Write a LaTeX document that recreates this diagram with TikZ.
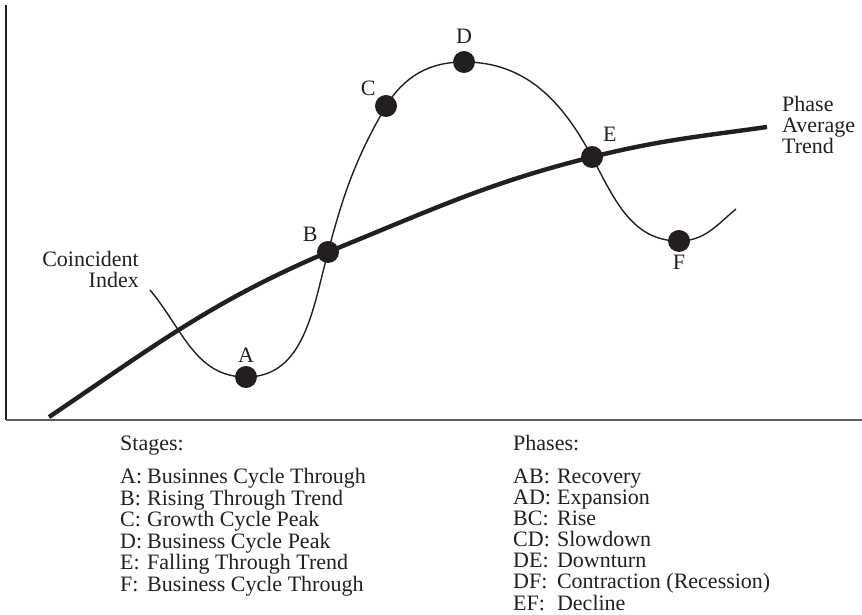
\documentclass[tikz,border=0pt]{standalone}
\usepackage{fontspec}
\setmainfont{Liberation Serif}
\usetikzlibrary{positioning}
\definecolor{color_ink}{RGB}{35,31,32}
\definecolor{color_axis}{RGB}{95,95,95}

\begin{document}
\begin{tikzpicture}[x=1pt,y=1pt,
  trend line/.style={line width=4.4pt,color_ink},
  cycle line/.style={line width=1.4pt,color_ink},
  stage dot/.style={circle,fill=color_ink,minimum size=22pt,inner sep=0pt},
  stage label/.style={font=\fontsize{22}{21}\selectfont,text=color_ink,inner sep=1pt,label distance=2pt},
  side text/.style={font=\fontsize{22}{21}\selectfont,text=color_ink,inner sep=0pt},
  legend text/.style={font=\fontsize{22}{20.5}\selectfont,text=color_ink,inner sep=0pt,anchor=base west}]

  \useasboundingbox (0,0) rectangle (862,615);

  % EJES
  \coordinate (ytop) at (6,610);
  \coordinate (orig) at (6,195);
  \coordinate (xend) at (862,195);
  \draw[line width=1.5pt,color_ink] (ytop) -- (orig);
  \draw[line width=1.5pt,color_axis] (orig) -- (xend);

  % ETAPAS
  \coordinate (A) at (246,238);
  \coordinate (B) at (328,363);
  \coordinate (C) at (386,509);
  \coordinate (D) at (464,553);
  \coordinate (E) at (592,458);
  \coordinate (F) at (679,374);

  % TENDENCIA
  \coordinate (t0) at (49,198);
  \coordinate (t1) at (767,488);
  \draw[trend line] (t0) to[out=34,in=203] (B) to[out=22,in=194] (E) to[out=14,in=188] (t1);

  % CICLO
  \coordinate (c0) at (150,325);
  \coordinate (c1) at (736,406);
  \draw[cycle line] (c0) to[out=-50,in=180] (A) to[out=0,in=-105] (B)
    to[out=75,in=-120] (C) to[out=58,in=180] (D) to[out=0,in=118] (E)
    to[out=-62,in=180] (F) to[out=0,in=-140] (c1);

  % PUNTOS
  \node[stage dot,label={[stage label]above:A}] (dotA) at (A) {};
  \node[stage dot,label={[stage label]above left:B}] (dotB) at (B) {};
  \node[stage dot,label={[stage label]above left:C}] (dotC) at (C) {};
  \node[stage dot,label={[stage label,label distance=6pt]above:D}] (dotD) at (D) {};
  \node[stage dot,label={[stage label,label distance=6pt]55:E}] (dotE) at (E) {};
  \node[stage dot,label={[stage label]below:F}] (dotF) at (F) {};

  % TEXTOS
  \node[side text,align=right,anchor=east] (coincident) at (139,346) {Coincident\\Index};
  \node[side text,align=left,anchor=west] (trend) at (782,490) {Phase\\Average\\Trend};

  % LEYENDA: ETAPAS
  \node[legend text] (stages head) at (120,164) {Stages:};
  \node[legend text] (stages list) at (120,131) {%
    \begin{tabular}[t]{@{}l@{\hspace{5pt}}l@{}}
      A: & Businnes Cycle Through\\
      B: & Rising Through Trend\\
      C: & Growth Cycle Peak\\
      D: & Business Cycle Peak\\
      E: & Falling Through Trend\\
      F: & Business Cycle Through
    \end{tabular}};

  % LEYENDA: FASES
  \node[legend text] (phases head) at (513,164) {Phases:};
  \node[legend text] (phases list) at (513,131) {%
    \begin{tabular}[t]{@{}l@{\hspace{6pt}}l@{}}
      AB: & Recovery\\
      AD: & Expansion\\
      BC: & Rise\\
      CD: & Slowdown\\
      DE: & Downturn\\
      DF: & Contraction (Recession)\\
      EF: & Decline
    \end{tabular}};

\end{tikzpicture}
\end{document}
